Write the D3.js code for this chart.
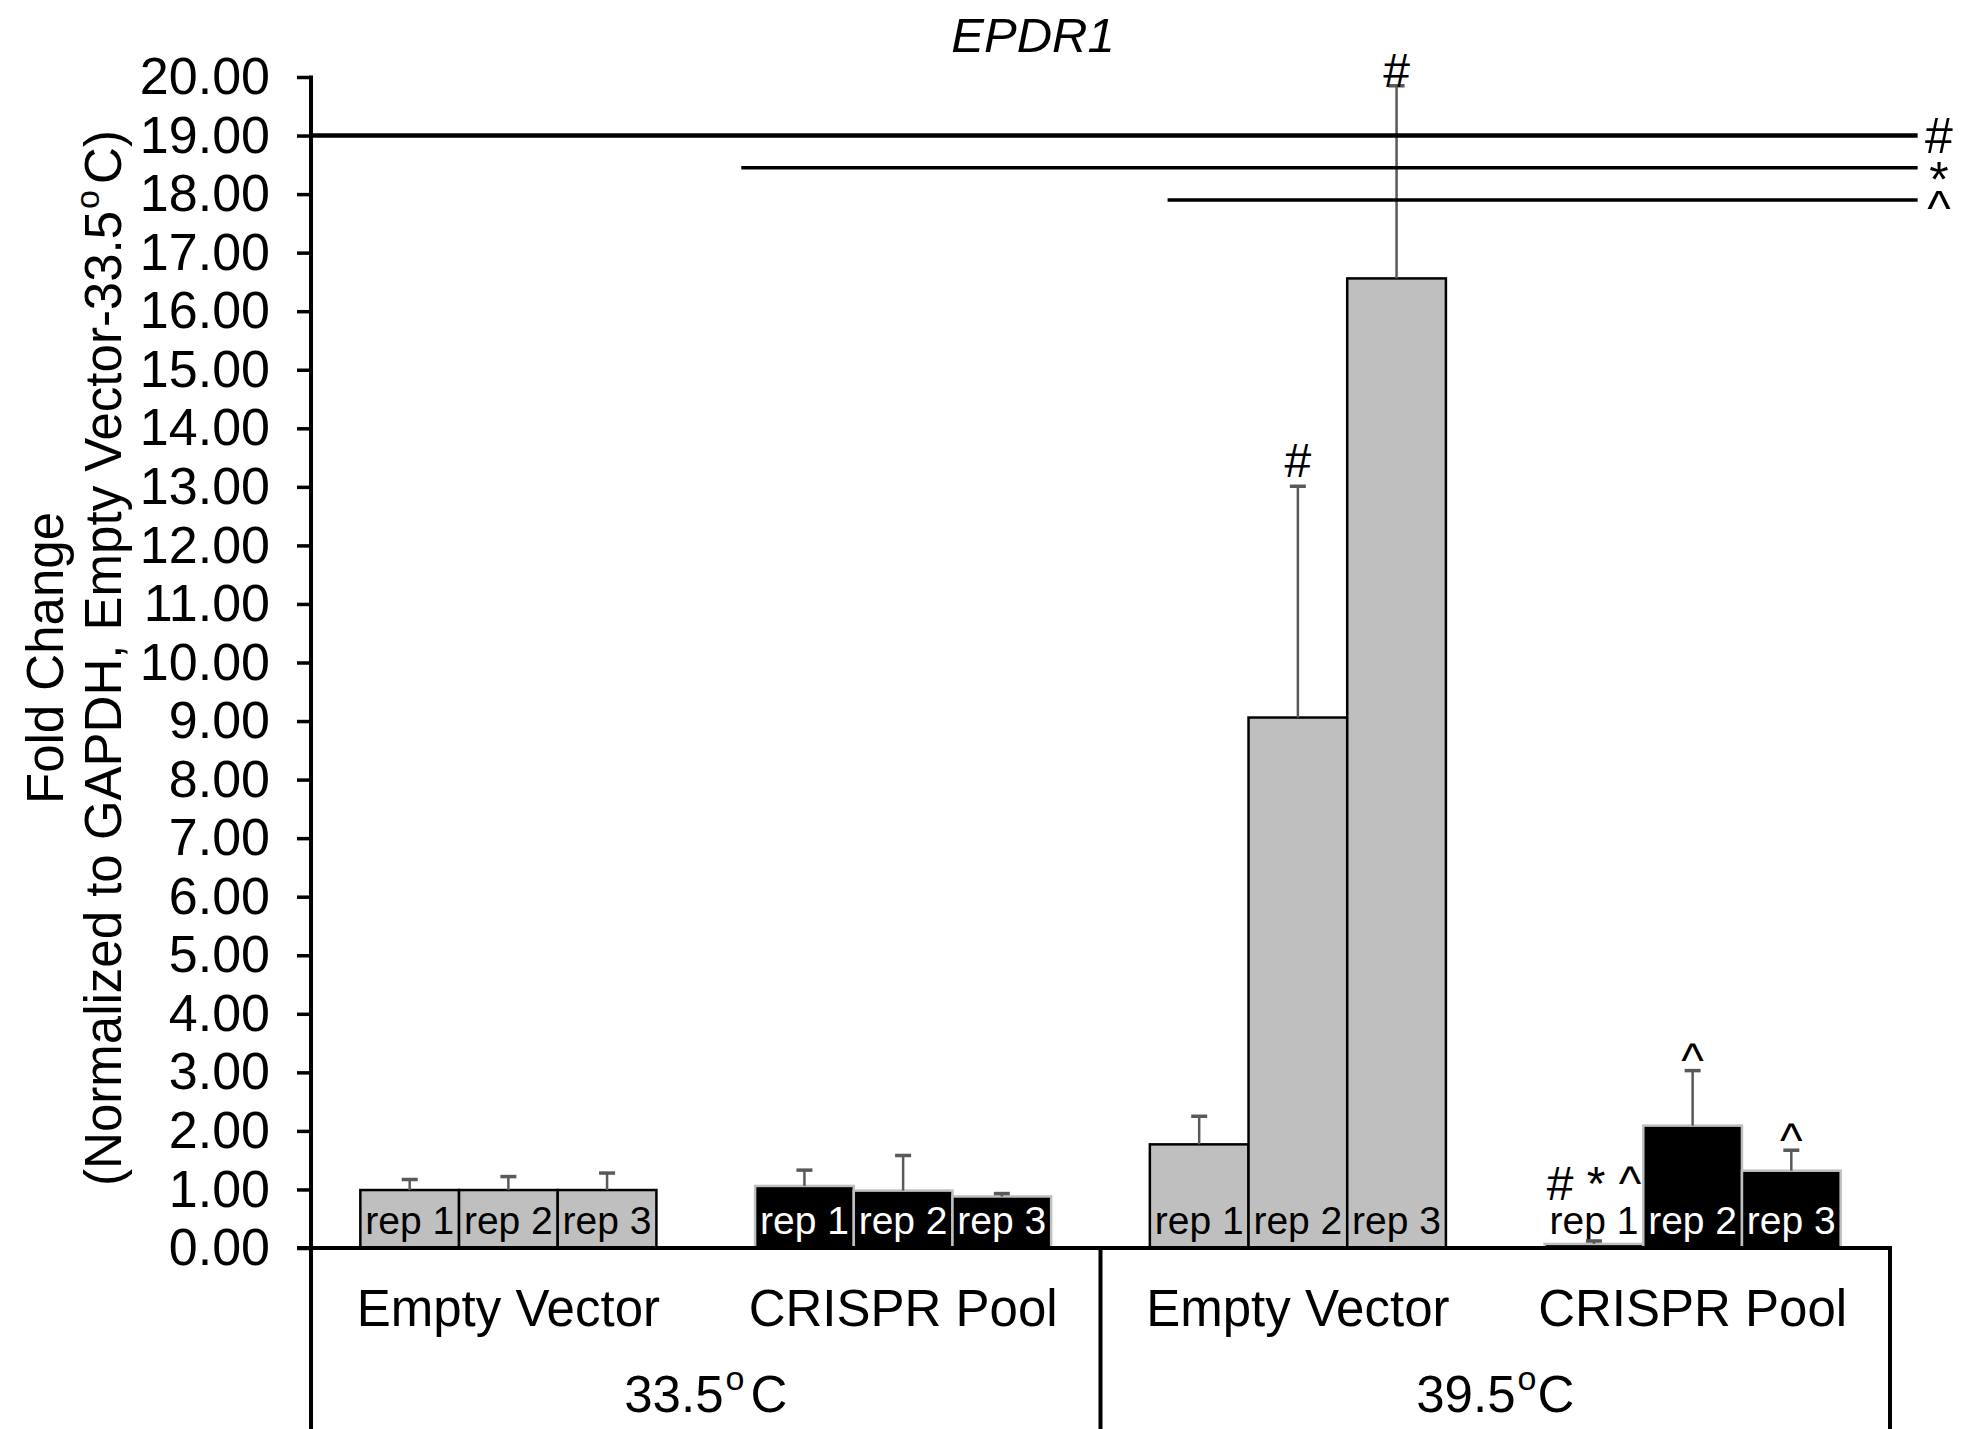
<!DOCTYPE html>
<html><head><meta charset="utf-8">
<script src="https://cdn.jsdelivr.net/npm/d3@7"></script>
<style>
body{margin:0;background:#fff}
svg{display:block}
text{font-family:"Liberation Sans",Arial,sans-serif;fill:#000}
</style>
</head><body>
<svg id="chart" width="1965" height="1429"></svg>
<script>
// ---------------- data ----------------
const groupIds    = ["ev335", "cr335", "ev395", "cr395"];
const groupLabels = ["Empty Vector", "CRISPR Pool", "Empty Vector", "CRISPR Pool"];
const groupType   = ["ev", "cr", "ev", "cr"];
const tempLabels  = ["33.5", "39.5"];
const repLabels   = ["rep 1", "rep 2", "rep 3"];

const meanEV335 = [0.99, 0.99, 0.99];
const errEV335  = [0.18, 0.23, 0.29];
const meanCR335 = [1.06, 0.98, 0.88];
const errCR335  = [0.27, 0.60, 0.05];
const meanEV395 = [1.77, 9.06, 16.56];
const errEV395  = [0.48, 3.95, 3.29];
const meanCR395 = [0.07, 2.09, 1.32];
const errCR395  = [0.05, 0.94, 0.35];

const yTickValues = [0,1,2,3,4,5,6,7,8,9,10,11,12,13,14,15,16,17,18,19,20];

// significance bracket lines (symbol, level, start in group units)
const sigSymbols = ["#", "*", "^"];
const sigLevels  = [19.0, 18.45, 17.9];
const sigStarts  = [0, 1.09, 2.17];
const sigEnd     = 4.07;

// per-bar annotations: group index, rep index, text
const annGroup = [2, 2, 3, 3, 3];
const annRep   = [1, 2, 0, 1, 2];
const annText  = ["#", "#", "# * ^", "^", "^"];

// ---------------- layout ----------------
const svg = d3.select("#chart");
const X0 = 311, X1 = 1890, Y0 = 1248, YTOP = 77, H = 1429;
const x  = d3.scaleBand().domain(groupIds).range([X0, X1]).paddingInner(0).paddingOuter(0);
const xr = d3.scaleBand().domain(repLabels).range([0, x.bandwidth()]).paddingInner(0).paddingOuter(0.5);
const xPos = d3.scaleLinear().domain([0, 4]).range([X0, X1]);
const y  = d3.scaleLinear().domain([0, 20]).range([Y0, YTOP]);

const means = [meanEV335, meanCR335, meanEV395, meanCR395];
const errs  = [errEV335, errCR335, errEV395, errCR395];
const rows = [];
groupIds.forEach((g, gi) => repLabels.forEach((r, ri) => {
  rows.push({g, gi, r, ri, type: groupType[gi], mean: means[gi][ri], err: errs[gi][ri]});
}));

const FILL = {ev: "#bfbfbf", cr: "#000000"};
const EDGE = {ev: "#000000", cr: "#bfbfbf"};

// glyph ink metrics (em units) for placing symbols
const inkBottom = {"#": 0, "*": 0.43, "^": 0.33};
const inkCenter = {"#": 0.35, "*": 0.575, "^": 0.51};

// ---------------- bars ----------------
svg.append("g").selectAll("rect").data(rows).join("rect")
  .attr("x", d => x(d.g) + xr(d.r))
  .attr("y", d => y(d.mean))
  .attr("width", xr.bandwidth())
  .attr("height", d => y(0) - y(d.mean))
  .attr("fill", d => FILL[d.type])
  .attr("stroke", d => EDGE[d.type])
  .attr("stroke-width", 2.5);

// rep labels
svg.append("g").selectAll("text").data(rows).join("text")
  .attr("x", d => x(d.g) + xr(d.r) + xr.bandwidth() / 2)
  .attr("y", Y0 - 14)
  .attr("text-anchor", "middle")
  .attr("font-size", 39)
  .style("fill", d => (d.type === "cr" && (y(0) - y(d.mean)) > 45) ? "#fff" : "#000")
  .text(d => d.r);

// error bars
const eg = svg.append("g").attr("stroke", "#595959").attr("stroke-width", 2.5);
rows.forEach(d => {
  const cx = x(d.g) + xr(d.r) + xr.bandwidth() / 2;
  const top = Math.min(d.mean + d.err, 20);
  eg.append("line").attr("x1", cx).attr("x2", cx).attr("y1", y(d.mean)).attr("y2", y(top));
  eg.append("line").attr("x1", cx - 8).attr("x2", cx + 8).attr("y1", y(top)).attr("y2", y(top)).attr("stroke-width", 3.5);
});

// bar annotations
const ANN_F = 48;
annText.forEach((t, i) => {
  const d = rows.find(r => r.gi === annGroup[i] && r.ri === annRep[i]);
  const cx = x(d.g) + xr(d.r) + xr.bandwidth() / 2;
  const yErr = y(Math.min(d.mean + d.err, 20));
  const first = t[0];
  let base = yErr - 9 + inkBottom[first] * ANN_F;
  base = Math.min(base, Y0 - 48);
  base = Math.max(base, YTOP + 10);
  svg.append("text").attr("x", cx).attr("y", base)
    .attr("text-anchor", "middle").attr("font-size", ANN_F).text(t);
});

// ---------------- axes ----------------
const yAxis = d3.axisLeft(y).tickValues(yTickValues).tickFormat(d3.format(".2f"))
  .tickSize(14).tickSizeOuter(0).tickPadding(27);
const ag = svg.append("g").attr("transform", `translate(${X0},0)`).call(yAxis);
ag.select(".domain").remove();
ag.selectAll(".tick line").attr("stroke", "#000").attr("stroke-width", 3.5);
ag.selectAll(".tick text").attr("font-size", 52).attr("font-family", "Liberation Sans, Arial, sans-serif").style("fill", "#000");

// y-axis line running to the bottom of the figure
svg.append("line").attr("x1", X0).attr("x2", X0).attr("y1", YTOP - 1.5).attr("y2", H)
  .attr("stroke", "#000").attr("stroke-width", 4);
// baseline
svg.append("line").attr("x1", X0 - 14).attr("x2", X1 + 2).attr("y1", Y0).attr("y2", Y0)
  .attr("stroke", "#000").attr("stroke-width", 4);
// group separators
[2, 4].forEach(v => {
  svg.append("line").attr("x1", xPos(v)).attr("x2", xPos(v)).attr("y1", Y0).attr("y2", H)
    .attr("stroke", "#000").attr("stroke-width", 4);
});

// category labels
svg.append("g").selectAll("text").data(groupIds).join("text")
  .attr("x", d => x(d) + x.bandwidth() / 2)
  .attr("y", 1326)
  .attr("text-anchor", "middle")
  .attr("font-size", 51)
  .text((d, i) => groupLabels[i]);

// temperature labels
tempLabels.forEach((t, i) => {
  const tx = svg.append("text").attr("x", xPos(1 + 2 * i)).attr("y", 1412)
    .attr("text-anchor", "middle").attr("font-size", 51);
  tx.append("tspan").text(t);
  tx.append("tspan").attr("font-size", 34).attr("dy", -22).attr("dx", 2).text("o");
  tx.append("tspan").attr("dy", 22).attr("dx", i === 0 ? 6 : 1).text("C");
});

// significance lines
sigSymbols.forEach((s, i) => {
  const ly = y(sigLevels[i]);
  svg.append("line").attr("x1", xPos(sigStarts[i])).attr("x2", xPos(sigEnd))
    .attr("y1", ly).attr("y2", ly).attr("stroke", "#000").attr("stroke-width", i === 0 ? 4.5 : 3.5);
  svg.append("text").attr("x", xPos(4.124)).attr("y", ly + inkCenter[s] * 50)
    .attr("text-anchor", "middle").attr("font-size", 50).text(s);
});

// title
svg.append("text").attr("x", 1033).attr("y", 52).attr("text-anchor", "middle")
  .attr("font-size", 49).attr("font-style", "italic").text("EPDR1");

// y-axis title (two lines, rotated)
const cy = 658;
svg.append("text").attr("transform", `translate(63,${cy}) rotate(-90)`)
  .attr("text-anchor", "middle").attr("font-size", 51).text("Fold Change");
const yl = svg.append("text").attr("transform", `translate(121,${cy}) rotate(-90)`)
  .attr("text-anchor", "middle").attr("font-size", 51);
yl.append("tspan").text("(Normalized to GAPDH, Empty Vector-33.5");
yl.append("tspan").attr("font-size", 34).attr("dy", -22).attr("dx", 2).text("o");
yl.append("tspan").attr("dy", 22).attr("dx", 6).text("C)");
</script>
</body></html>
